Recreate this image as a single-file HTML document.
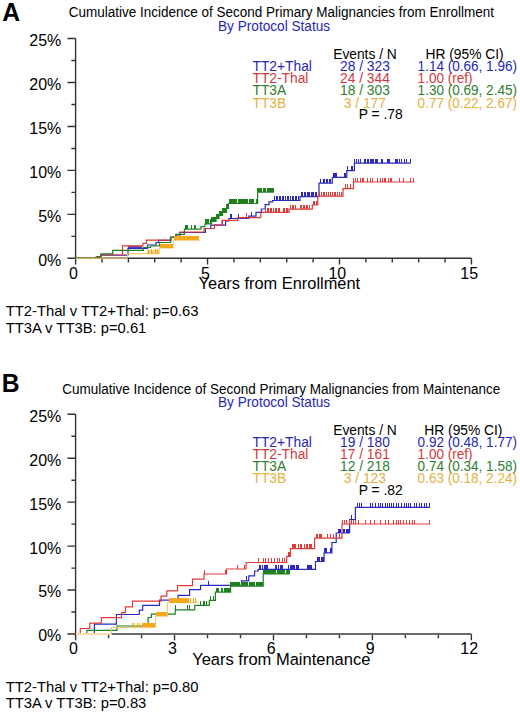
<!DOCTYPE html>
<html><head><meta charset="utf-8"><style>
html,body{margin:0;padding:0;background:#fff;}
body{width:520px;height:714px;overflow:hidden;}
svg{display:block;}
</style></head><body>
<svg width="520" height="714" viewBox="0 0 520 714" font-family='"Liberation Sans", sans-serif'>
<rect width="520" height="714" fill="#fff"/>
<text transform="translate(2.2,20.8) scale(1,1.04)" font-size="24.7" fill="#000" text-anchor="start" font-weight="bold">A</text>
<text transform="translate(281.3,17.4) scale(1,1.04)" font-size="13.5" fill="#000" text-anchor="middle" font-weight="normal">Cumulative Incidence of Second Primary Malignancies from Enrollment</text>
<text transform="translate(218.0,30.8) scale(1,1.04)" font-size="13.65" fill="#2626b4" text-anchor="start" font-weight="normal">By Protocol Status</text>
<text transform="translate(333.2,58.6) scale(1,1.04)" font-size="13.8" fill="#000" text-anchor="start" font-weight="normal">Events / N</text>
<text transform="translate(425.5,58.6) scale(1,1.04)" font-size="13.8" fill="#000" text-anchor="start" font-weight="normal">HR (95% CI)</text>
<text transform="translate(252.5,71.2) scale(1,1.04)" font-size="13.8" fill="#2626b4" text-anchor="start" font-weight="normal">TT2+Thal</text>
<text transform="translate(340.0,71.2) scale(1,1.04)" font-size="13.8" fill="#2626b4" text-anchor="start" font-weight="normal">28 / 323</text>
<text transform="translate(417.6,71.2) scale(1,1.04)" font-size="13.55" fill="#2626b4" text-anchor="start" font-weight="normal">1.14 (0.66, 1.96)</text>
<text transform="translate(252.5,83.3) scale(1,1.04)" font-size="13.8" fill="#d03a3a" text-anchor="start" font-weight="normal">TT2-Thal</text>
<text transform="translate(340.0,83.3) scale(1,1.04)" font-size="13.8" fill="#d03a3a" text-anchor="start" font-weight="normal">24 / 344</text>
<text transform="translate(417.6,83.3) scale(1,1.04)" font-size="13.55" fill="#d03a3a" text-anchor="start" font-weight="normal">1.00 (ref)</text>
<text transform="translate(252.5,95.4) scale(1,1.04)" font-size="13.8" fill="#2e7e2e" text-anchor="start" font-weight="normal">TT3A</text>
<text transform="translate(340.0,95.4) scale(1,1.04)" font-size="13.8" fill="#2e7e2e" text-anchor="start" font-weight="normal">18 / 303</text>
<text transform="translate(417.6,95.4) scale(1,1.04)" font-size="13.55" fill="#2e7e2e" text-anchor="start" font-weight="normal">1.30 (0.69, 2.45)</text>
<text transform="translate(252.5,107.5) scale(1,1.04)" font-size="13.8" fill="#e4b040" text-anchor="start" font-weight="normal">TT3B</text>
<text transform="translate(343.8,107.5) scale(1,1.04)" font-size="13.8" fill="#e4b040" text-anchor="start" font-weight="normal">3 / 177</text>
<text transform="translate(417.6,107.5) scale(1,1.04)" font-size="13.55" fill="#e4b040" text-anchor="start" font-weight="normal">0.77 (0.22, 2.67)</text>
<text transform="translate(358.8,119.0) scale(1,1.04)" font-size="13.8" fill="#000" text-anchor="start" font-weight="normal">P = .78</text>
<path d="M75.6,38.55000000000004V264.5M75.6,258.3H471.45000000000005M75.6,258.30h-8.2M75.6,236.33h-4.2M75.6,214.35h-8.2M75.6,192.38h-4.2M75.6,170.40h-8.2M75.6,148.43h-4.2M75.6,126.45h-8.2M75.6,104.48h-4.2M75.6,82.50h-8.2M75.6,60.53h-4.2M75.6,38.55h-8.2M75.60,258.3v6.2M101.99,258.3v4.2M128.38,258.3v4.2M154.77,258.3v4.2M181.16,258.3v4.2M207.55,258.3v6.2M233.94,258.3v4.2M260.33,258.3v4.2M286.72,258.3v4.2M313.11,258.3v4.2M339.50,258.3v6.2M365.89,258.3v4.2M392.28,258.3v4.2M418.67,258.3v4.2M445.06,258.3v4.2M471.45,258.3v6.2" fill="none" stroke="#333" stroke-width="1.4"/>
<text transform="translate(61.3,265.70) scale(1,1.04)" font-size="16" fill="#000" text-anchor="end" font-weight="normal">0%</text>
<text transform="translate(61.3,221.75) scale(1,1.04)" font-size="16" fill="#000" text-anchor="end" font-weight="normal">5%</text>
<text transform="translate(61.3,177.80) scale(1,1.04)" font-size="16" fill="#000" text-anchor="end" font-weight="normal">10%</text>
<text transform="translate(61.3,133.85) scale(1,1.04)" font-size="16" fill="#000" text-anchor="end" font-weight="normal">15%</text>
<text transform="translate(61.3,89.90) scale(1,1.04)" font-size="16" fill="#000" text-anchor="end" font-weight="normal">20%</text>
<text transform="translate(61.3,45.95) scale(1,1.04)" font-size="16" fill="#000" text-anchor="end" font-weight="normal">25%</text>
<text transform="translate(73.40,278.5) scale(1,1.04)" font-size="16" fill="#000" text-anchor="middle" font-weight="normal">0</text>
<text transform="translate(205.35,278.5) scale(1,1.04)" font-size="16" fill="#000" text-anchor="middle" font-weight="normal">5</text>
<text transform="translate(337.30,278.5) scale(1,1.04)" font-size="16" fill="#000" text-anchor="middle" font-weight="normal">10</text>
<text transform="translate(469.25,278.5) scale(1,1.04)" font-size="16" fill="#000" text-anchor="middle" font-weight="normal">15</text>
<text transform="translate(198.6,289) scale(1,1.04)" font-size="16.4" fill="#000" text-anchor="start" font-weight="normal">Years from Enrollment</text>
<text transform="translate(5.7,316.4) scale(1,1.04)" font-size="14.8" fill="#000" text-anchor="start" font-weight="normal">TT2-Thal v TT2+Thal: p=0.63</text>
<text transform="translate(5.7,332.8) scale(1,1.04)" font-size="14.8" fill="#000" text-anchor="start" font-weight="normal">TT3A v TT3B: p=0.61</text>
<path d="M128.5,248.3v-2.6M129.5,248.3v-2.6M130.5,248.3v-2.6M131.5,248.3v-2.6M132.5,248.3v-2.6M133.5,248.3v-2.6M134.5,248.3v-2.6M135.5,248.3v-2.6M136.5,248.3v-2.6M137.5,248.3v-2.6M138.5,248.3v-2.6M139.5,248.3v-2.6M140.5,248.3v-2.6M141.5,248.3v-2.6" stroke="#6a48b8" stroke-width="1" shape-rendering="crispEdges" fill="none"/>
<path d="M75.6,258.3H99V256.5H101V255.2H128V248.3H147.5V245H156V242.5H158.5V240.4H171V237.3H175.8V235H179.8V232.5H205.4V228.5H210.8V225.2H225.6V221H229V218.5H248.8V216.2H256V212.3H261.3V209H265.2V204.6H269V201.8H272.6V200.5H300V196.6H319V183.1H332.3V177.4H346.8V170.6H354.4V163.1H410.8" fill="none" stroke="#2a2ac0" stroke-width="1.2"/>
<path d="M222.5,225.2v-4.5M230.5,218.5v-4.5M231.5,218.5v-4.5M238.5,218.5v-4.5M251.5,216.2v-4.5M274.5,200.5v-4.5M276.5,200.5v-4.5M277.5,200.5v-4.5M279.5,200.5v-4.5M280.5,200.5v-4.5M282.5,200.5v-4.5M283.5,200.5v-4.5M285.5,200.5v-4.5M287.5,200.5v-4.5M288.5,200.5v-4.5M290.5,200.5v-4.5M292.5,200.5v-4.5M293.5,200.5v-4.5M295.5,200.5v-4.5M296.5,200.5v-4.5M298.5,200.5v-4.5M301.5,196.6v-4.5M302.5,196.6v-4.5M304.5,196.6v-4.5M305.5,196.6v-4.5M307.5,196.6v-4.5M308.5,196.6v-4.5M309.5,196.6v-4.5M311.5,196.6v-4.5M312.5,196.6v-4.5M313.5,196.6v-4.5M315.5,196.6v-4.5M316.5,196.6v-4.5M320.5,183.1v-4.5M323.5,183.1v-4.5M324.5,183.1v-4.5M326.5,183.1v-4.5M327.5,183.1v-4.5M329.5,183.1v-4.5M330.5,183.1v-4.5M333.5,177.4v-4.5M334.5,177.4v-4.5M335.5,177.4v-4.5M336.5,177.4v-4.5M344.5,177.4v-4.5M345.5,177.4v-4.5M347.5,170.6v-4.5M351.5,170.6v-4.5M352.5,170.6v-4.5M354.5,163.1v-4.5M356.5,163.1v-4.5M358.5,163.1v-4.5M360.5,163.1v-4.5M364.5,163.1v-4.5M365.5,163.1v-4.5M367.5,163.1v-4.5M368.5,163.1v-4.5M370.5,163.1v-4.5M371.5,163.1v-4.5M372.5,163.1v-4.5M373.5,163.1v-4.5M375.5,163.1v-4.5M376.5,163.1v-4.5M377.5,163.1v-4.5M381.5,163.1v-4.5M382.5,163.1v-4.5M387.5,163.1v-4.5M388.5,163.1v-4.5M389.5,163.1v-4.5M395.5,163.1v-4.5M396.5,163.1v-4.5M397.5,163.1v-4.5M399.5,163.1v-4.5M401.5,163.1v-4.5M404.5,163.1v-4.5M406.5,163.1v-4.5M410.5,163.1v-4.5" fill="none" stroke="#2a2ac0" stroke-width="1.0" shape-rendering="crispEdges"/>
<path d="M75.6,258.3H96.2V256.6H100.8V255.0H122.5V245.8H143V243.3H146.5V240.2H170.5V237H180V232H204V228.5H214.5V224.8H222V220.4H237.7V217.7H260.8V212.3H289V209.2H312.3V205H317.7V196.2H343V188.6H353.5V182H414.4" fill="none" stroke="#e03a3a" stroke-width="1.2"/>
<path d="M246.5,217.7v-4.5M265.5,212.3v-4.5M267.5,212.3v-4.5M268.5,212.3v-4.5M270.5,212.3v-4.5M271.5,212.3v-4.5M273.5,212.3v-4.5M275.5,212.3v-4.5M276.5,212.3v-4.5M278.5,212.3v-4.5M279.5,212.3v-4.5M283.5,212.3v-4.5M284.5,212.3v-4.5M286.5,212.3v-4.5M287.5,212.3v-4.5M290.5,209.2v-4.5M292.5,209.2v-4.5M293.5,209.2v-4.5M295.5,209.2v-4.5M300.5,209.2v-4.5M301.5,209.2v-4.5M303.5,209.2v-4.5M304.5,209.2v-4.5M306.5,209.2v-4.5M307.5,209.2v-4.5M309.5,209.2v-4.5M313.5,205v-4.5M314.5,205v-4.5M316.5,205v-4.5M319.5,196.2v-4.5M321.5,196.2v-4.5M323.5,196.2v-4.5M324.5,196.2v-4.5M326.5,196.2v-4.5M328.5,196.2v-4.5M330.5,196.2v-4.5M332.5,196.2v-4.5M334.5,196.2v-4.5M335.5,196.2v-4.5M337.5,196.2v-4.5M339.5,196.2v-4.5M341.5,196.2v-4.5M345.5,188.6v-4.5M347.5,188.6v-4.5M350.5,188.6v-4.5M353.5,182v-4.5M355.5,182v-4.5M357.5,182v-4.5M360.5,182v-4.5M362.5,182v-4.5M363.5,182v-4.5M367.5,182v-4.5M370.5,182v-4.5M372.5,182v-4.5M377.5,182v-4.5M380.5,182v-4.5M382.5,182v-4.5M384.5,182v-4.5M385.5,182v-4.5M388.5,182v-4.5M390.5,182v-4.5M391.5,182v-4.5M399.5,182v-4.5M403.5,182v-4.5M410.5,182v-4.5M413.5,182v-4.5" fill="none" stroke="#e03a3a" stroke-width="1.0" shape-rendering="crispEdges"/>
<path d="M75.6,258.3H97.5V256.8H101V253.8H112.7V250.3H143.5V247.5H150.4V246H159.6V242.5H170.5V237.3H175.8V234.4H184.4V229.2H201V226.6H205V223.9H211.5V221.5H216V218.5H219V215.5H222.5V212.5H226.5V208.5H228.5V203.5H257.6V192.1H273.8" fill="none" stroke="#1f801f" stroke-width="1.2"/>
<path d="M185.5,229.2v-4.5M186.5,229.2v-4.5M187.5,229.2v-4.5M191.5,229.2v-4.5M194.5,229.2v-4.5M195.5,229.2v-4.5M205.5,223.9v-4.5M206.5,223.9v-4.5M207.5,223.9v-4.5M208.5,223.9v-4.5M210.5,223.9v-4.5M211.5,221.5v-4.5M212.5,221.5v-4.5M213.5,221.5v-4.5M214.5,221.5v-4.5M215.5,221.5v-4.5M216.5,218.5v-4.5M217.5,218.5v-4.5M218.5,218.5v-4.5M219.5,215.5v-4.5M220.5,215.5v-4.5M221.5,215.5v-4.5M222.5,212.5v-4.5M223.5,212.5v-4.5M224.5,212.5v-4.5M225.5,212.5v-4.5M226.5,208.5v-4.5M227.5,208.5v-4.5M229.5,203.5v-4.5M230.5,203.5v-4.5M231.5,203.5v-4.5M232.5,203.5v-4.5M233.5,203.5v-4.5M234.5,203.5v-4.5M235.5,203.5v-4.5M236.5,203.5v-4.5M238.5,203.5v-4.5M239.5,203.5v-4.5M240.5,203.5v-4.5M241.5,203.5v-4.5M242.5,203.5v-4.5M243.5,203.5v-4.5M244.5,203.5v-4.5M245.5,203.5v-4.5M246.5,203.5v-4.5M247.5,203.5v-4.5M249.5,203.5v-4.5M250.5,203.5v-4.5M251.5,203.5v-4.5M252.5,203.5v-4.5M253.5,203.5v-4.5M256.5,203.5v-4.5M257.5,203.5v-4.5M257.5,192.1v-4.5M258.5,192.1v-4.5M259.5,192.1v-4.5M260.5,192.1v-4.5M261.5,192.1v-4.5M263.5,192.1v-4.5M264.5,192.1v-4.5M265.5,192.1v-4.5M267.5,192.1v-4.5M268.5,192.1v-4.5M269.5,192.1v-4.5M270.5,192.1v-4.5M270.5,192.1v-4.5M271.5,192.1v-4.5M272.5,192.1v-4.5M273.5,192.1v-4.5" fill="none" stroke="#1f801f" stroke-width="1.0" shape-rendering="crispEdges"/>
<path d="M147.5,253.7v-3.6M148.5,253.7v-3.6M149.5,253.7v-3.6M150.5,253.7v-3.6M151.5,253.7v-3.6M152.5,253.7v-3.6M153.5,253.7v-3.6M154.5,253.7v-3.6M155.5,253.7v-3.6M156.5,253.7v-3.6M157.5,253.7v-3.6M158.5,253.7v-3.6" stroke="#f7cf85" stroke-width="1" shape-rendering="crispEdges" fill="none"/>
<path d="M75.6,258.3H127.5V253.7H159.2V248H173.1V240.2H200" fill="none" stroke="#f2c060" stroke-width="1.0"/>
<path d="M148.5,253.7v-4.5M151.5,253.7v-4.5M155.5,253.7v-4.5M157.5,253.7v-4.5M160.5,248v-4.5M161.5,248v-4.5M162.5,248v-4.5M163.5,248v-4.5M164.5,248v-4.5M165.5,248v-4.5M166.5,248v-4.5M167.5,248v-4.5M168.5,248v-4.5M169.5,248v-4.5M170.5,248v-4.5M171.5,248v-4.5M172.5,248v-4.5M174.5,240.2v-4.5M175.5,240.2v-4.5M176.5,240.2v-4.5M177.5,240.2v-4.5M178.5,240.2v-4.5M179.5,240.2v-4.5M180.5,240.2v-4.5M181.5,240.2v-4.5M182.5,240.2v-4.5M183.5,240.2v-4.5M184.5,240.2v-4.5M185.5,240.2v-4.5M186.5,240.2v-4.5M187.5,240.2v-4.5M188.5,240.2v-4.5M189.5,240.2v-4.5M190.5,240.2v-4.5M191.5,240.2v-4.5M192.5,240.2v-4.5M193.5,240.2v-4.5M194.5,240.2v-4.5M195.5,240.2v-4.5M196.5,240.2v-4.5M197.5,240.2v-4.5M198.5,240.2v-4.5" fill="none" stroke="#f5a81a" stroke-width="1.1" shape-rendering="crispEdges"/>
<text transform="translate(1.8,392.1) scale(1,1.04)" font-size="24.7" fill="#000" text-anchor="start" font-weight="bold">B</text>
<text transform="translate(281.3,393.7) scale(1,1.04)" font-size="13.5" fill="#000" text-anchor="middle" font-weight="normal">Cumulative Incidence of Second Primary Malignancies from Maintenance</text>
<text transform="translate(218.0,407.1) scale(1,1.04)" font-size="13.65" fill="#2626b4" text-anchor="start" font-weight="normal">By Protocol Status</text>
<text transform="translate(333.2,434.5) scale(1,1.04)" font-size="13.8" fill="#000" text-anchor="start" font-weight="normal">Events / N</text>
<text transform="translate(424.3,434.5) scale(1,1.04)" font-size="13.8" fill="#000" text-anchor="start" font-weight="normal">HR (95% CI)</text>
<text transform="translate(252.5,446.9) scale(1,1.04)" font-size="13.8" fill="#2626b4" text-anchor="start" font-weight="normal">TT2+Thal</text>
<text transform="translate(340.0,446.9) scale(1,1.04)" font-size="13.8" fill="#2626b4" text-anchor="start" font-weight="normal">19 / 180</text>
<text transform="translate(417.6,446.9) scale(1,1.04)" font-size="13.55" fill="#2626b4" text-anchor="start" font-weight="normal">0.92 (0.48, 1.77)</text>
<text transform="translate(252.5,459.0) scale(1,1.04)" font-size="13.8" fill="#d03a3a" text-anchor="start" font-weight="normal">TT2-Thal</text>
<text transform="translate(340.0,459.0) scale(1,1.04)" font-size="13.8" fill="#d03a3a" text-anchor="start" font-weight="normal">17 / 161</text>
<text transform="translate(417.6,459.0) scale(1,1.04)" font-size="13.55" fill="#d03a3a" text-anchor="start" font-weight="normal">1.00 (ref)</text>
<text transform="translate(252.5,471.1) scale(1,1.04)" font-size="13.8" fill="#2e7e2e" text-anchor="start" font-weight="normal">TT3A</text>
<text transform="translate(340.0,471.1) scale(1,1.04)" font-size="13.8" fill="#2e7e2e" text-anchor="start" font-weight="normal">12 / 218</text>
<text transform="translate(417.6,471.1) scale(1,1.04)" font-size="13.55" fill="#2e7e2e" text-anchor="start" font-weight="normal">0.74 (0.34, 1.58)</text>
<text transform="translate(252.5,483.2) scale(1,1.04)" font-size="13.8" fill="#e4b040" text-anchor="start" font-weight="normal">TT3B</text>
<text transform="translate(343.8,483.2) scale(1,1.04)" font-size="13.8" fill="#e4b040" text-anchor="start" font-weight="normal">3 / 123</text>
<text transform="translate(417.6,483.2) scale(1,1.04)" font-size="13.55" fill="#e4b040" text-anchor="start" font-weight="normal">0.63 (0.18, 2.24)</text>
<text transform="translate(358.8,494.7) scale(1,1.04)" font-size="13.8" fill="#000" text-anchor="start" font-weight="normal">P = .82</text>
<path d="M75.6,414.25V640.2M75.6,634.00h-8.2M75.6,612.02h-4.2M75.6,590.05h-8.2M75.6,568.08h-4.2M75.6,546.10h-8.2M75.6,524.12h-4.2M75.6,502.15h-8.2M75.6,480.18h-4.2M75.6,458.20h-8.2M75.6,436.23h-4.2M75.6,414.25h-8.2M75.60,634.0v6.2M108.58,634.0v4.2M141.56,634.0v4.2M174.54,634.0v6.2M207.52,634.0v4.2M240.50,634.0v4.2M273.48,634.0v6.2M306.46,634.0v4.2M339.44,634.0v4.2M372.42,634.0v6.2M405.40,634.0v4.2M438.38,634.0v4.2M471.36,634.0v6.2" fill="none" stroke="#333" stroke-width="1.4"/>
<path d="M111.6,634.0H471.36" fill="none" stroke="#6a6a6a" stroke-width="1.9"/>
<text transform="translate(61.3,641.40) scale(1,1.04)" font-size="16" fill="#000" text-anchor="end" font-weight="normal">0%</text>
<text transform="translate(61.3,597.45) scale(1,1.04)" font-size="16" fill="#000" text-anchor="end" font-weight="normal">5%</text>
<text transform="translate(61.3,553.50) scale(1,1.04)" font-size="16" fill="#000" text-anchor="end" font-weight="normal">10%</text>
<text transform="translate(61.3,509.55) scale(1,1.04)" font-size="16" fill="#000" text-anchor="end" font-weight="normal">15%</text>
<text transform="translate(61.3,465.60) scale(1,1.04)" font-size="16" fill="#000" text-anchor="end" font-weight="normal">20%</text>
<text transform="translate(61.3,421.65) scale(1,1.04)" font-size="16" fill="#000" text-anchor="end" font-weight="normal">25%</text>
<text transform="translate(73.40,654.2) scale(1,1.04)" font-size="16" fill="#000" text-anchor="middle" font-weight="normal">0</text>
<text transform="translate(172.34,654.2) scale(1,1.04)" font-size="16" fill="#000" text-anchor="middle" font-weight="normal">3</text>
<text transform="translate(271.28,654.2) scale(1,1.04)" font-size="16" fill="#000" text-anchor="middle" font-weight="normal">6</text>
<text transform="translate(370.22,654.2) scale(1,1.04)" font-size="16" fill="#000" text-anchor="middle" font-weight="normal">9</text>
<text transform="translate(469.16,654.2) scale(1,1.04)" font-size="16" fill="#000" text-anchor="middle" font-weight="normal">12</text>
<text transform="translate(192.2,664.6) scale(1,1.04)" font-size="16.5" fill="#000" text-anchor="start" font-weight="normal">Years from Maintenance</text>
<text transform="translate(5.7,691.8) scale(1,1.04)" font-size="14.8" fill="#000" text-anchor="start" font-weight="normal">TT2-Thal v TT2+Thal: p=0.80</text>
<text transform="translate(5.7,708.2) scale(1,1.04)" font-size="14.8" fill="#000" text-anchor="start" font-weight="normal">TT3A v TT3B: p=0.83</text>
<path d="M75.6,634.0H94.4V624.1H116.4V614.5H139.3V610.1H142.7V605.4H159.5V600.2H178.1V595.4H189.6V589.6H200.6V585.3H241.5V580.8H248.8V575.9H254.6V571H258.2V569.4H315.5V561.5H324.1V552.9H331.9V542.5H336.2V533H349.6V519.5H355.4V507.3H429.8" fill="none" stroke="#2a2ac0" stroke-width="1.2"/>
<path d="M208.5,585.3v-4.5M246.5,580.8v-4.5M259.5,569.4v-4.5M260.5,569.4v-4.5M262.5,569.4v-4.5M264.5,569.4v-4.5M265.5,569.4v-4.5M266.5,569.4v-4.5M267.5,569.4v-4.5M275.5,569.4v-4.5M276.5,569.4v-4.5M278.5,569.4v-4.5M278.5,569.4v-4.5M280.5,569.4v-4.5M281.5,569.4v-4.5M282.5,569.4v-4.5M288.5,569.4v-4.5M290.5,569.4v-4.5M291.5,569.4v-4.5M292.5,569.4v-4.5M293.5,569.4v-4.5M294.5,569.4v-4.5M296.5,569.4v-4.5M297.5,569.4v-4.5M298.5,569.4v-4.5M307.5,569.4v-4.5M308.5,569.4v-4.5M309.5,569.4v-4.5M310.5,569.4v-4.5M311.5,569.4v-4.5M317.5,561.5v-4.5M318.5,561.5v-4.5M319.5,561.5v-4.5M321.5,561.5v-4.5M322.5,561.5v-4.5M323.5,561.5v-4.5M324.5,552.9v-4.5M325.5,552.9v-4.5M326.5,552.9v-4.5M330.5,552.9v-4.5M331.5,552.9v-4.5M338.5,533v-4.5M339.5,533v-4.5M340.5,533v-4.5M343.5,533v-4.5M344.5,533v-4.5M346.5,533v-4.5M347.5,533v-4.5M348.5,533v-4.5M351.5,519.5v-4.5M357.5,507.3v-4.5M359.5,507.3v-4.5M361.5,507.3v-4.5M370.5,507.3v-4.5M372.5,507.3v-4.5M375.5,507.3v-4.5M378.5,507.3v-4.5M380.5,507.3v-4.5M382.5,507.3v-4.5M385.5,507.3v-4.5M387.5,507.3v-4.5M389.5,507.3v-4.5M391.5,507.3v-4.5M393.5,507.3v-4.5M396.5,507.3v-4.5M398.5,507.3v-4.5M401.5,507.3v-4.5M404.5,507.3v-4.5M406.5,507.3v-4.5M408.5,507.3v-4.5M410.5,507.3v-4.5M414.5,507.3v-4.5M416.5,507.3v-4.5M419.5,507.3v-4.5M421.5,507.3v-4.5M424.5,507.3v-4.5M426.5,507.3v-4.5M429.5,507.3v-4.5" fill="none" stroke="#2a2ac0" stroke-width="1.0" shape-rendering="crispEdges"/>
<path d="M75.6,634.0H80.3V628.5H89.8V623.1H101.3V617.7H121.5V612.7H125.4V606.8H132.5V601.2H161V596.1H166.8V590.8H177.5V585.6H192.5V579.2H204V574H226.5V569H246V562.5H286.7V556.3H290.4V548.6H314.6V538.2H342V524H430.2" fill="none" stroke="#e03a3a" stroke-width="1.2"/>
<path d="M204.5,574v-4.5M225.5,574v-4.5M237.5,569v-4.5M244.5,569v-4.5M258.5,562.5v-4.5M263.5,562.5v-4.5M265.5,562.5v-4.5M268.5,562.5v-4.5M271.5,562.5v-4.5M274.5,562.5v-4.5M277.5,562.5v-4.5M279.5,562.5v-4.5M282.5,562.5v-4.5M284.5,562.5v-4.5M288.5,556.3v-4.5M289.5,556.3v-4.5M292.5,548.6v-4.5M293.5,548.6v-4.5M294.5,548.6v-4.5M295.5,548.6v-4.5M298.5,548.6v-4.5M300.5,548.6v-4.5M301.5,548.6v-4.5M304.5,548.6v-4.5M306.5,548.6v-4.5M307.5,548.6v-4.5M309.5,548.6v-4.5M310.5,548.6v-4.5M311.5,548.6v-4.5M316.5,538.2v-4.5M317.5,538.2v-4.5M319.5,538.2v-4.5M320.5,538.2v-4.5M321.5,538.2v-4.5M327.5,538.2v-4.5M330.5,538.2v-4.5M333.5,538.2v-4.5M339.5,538.2v-4.5M342.5,524v-4.5M344.5,524v-4.5M346.5,524v-4.5M349.5,524v-4.5M351.5,524v-4.5M353.5,524v-4.5M355.5,524v-4.5M358.5,524v-4.5M365.5,524v-4.5M370.5,524v-4.5M374.5,524v-4.5M380.5,524v-4.5M385.5,524v-4.5M388.5,524v-4.5M393.5,524v-4.5M396.5,524v-4.5M398.5,524v-4.5M400.5,524v-4.5M403.5,524v-4.5M406.5,524v-4.5M409.5,524v-4.5M412.5,524v-4.5M414.5,524v-4.5M429.5,524v-4.5" fill="none" stroke="#e03a3a" stroke-width="1.0" shape-rendering="crispEdges"/>
<path d="M75.6,634.0H86.9V630.4H117V626H148.1V617.5H151.4V614.2H175.2V609.8H194.8V605.3H209.3V600.4H215.4V592.2H230.6V586.2H263.2V573.8H289.5" fill="none" stroke="#1f801f" stroke-width="1.2"/>
<path d="M175.5,609.8v-4.5M187.5,609.8v-4.5M189.5,609.8v-4.5M200.5,605.3v-4.5M203.5,605.3v-4.5M204.5,605.3v-4.5M206.5,605.3v-4.5M210.5,600.4v-4.5M213.5,600.4v-4.5M216.5,592.2v-4.5M217.5,592.2v-4.5M218.5,592.2v-4.5M221.5,592.2v-4.5M222.5,592.2v-4.5M224.5,592.2v-4.5M225.5,592.2v-4.5M226.5,592.2v-4.5M227.5,592.2v-4.5M228.5,592.2v-4.5M229.5,592.2v-4.5M230.5,586.2v-4.5M231.5,586.2v-4.5M232.5,586.2v-4.5M233.5,586.2v-4.5M234.5,586.2v-4.5M235.5,586.2v-4.5M236.5,586.2v-4.5M237.5,586.2v-4.5M238.5,586.2v-4.5M239.5,586.2v-4.5M241.5,586.2v-4.5M242.5,586.2v-4.5M243.5,586.2v-4.5M244.5,586.2v-4.5M245.5,586.2v-4.5M246.5,586.2v-4.5M247.5,586.2v-4.5M249.5,586.2v-4.5M250.5,586.2v-4.5M251.5,586.2v-4.5M252.5,586.2v-4.5M253.5,586.2v-4.5M254.5,586.2v-4.5M256.5,586.2v-4.5M257.5,586.2v-4.5M258.5,586.2v-4.5M259.5,586.2v-4.5M260.5,586.2v-4.5M261.5,586.2v-4.5M262.5,586.2v-4.5M263.5,573.8v-4.5M264.5,573.8v-3.9M265.5,573.8v-3.9M266.5,573.8v-3.9M267.5,573.8v-3.9M268.5,573.8v-3.9M269.5,573.8v-3.9M270.5,573.8v-3.9M271.5,573.8v-3.9M272.5,573.8v-3.9M273.5,573.8v-3.9M274.5,573.8v-3.9M275.5,573.8v-3.9M277.5,573.8v-3.9M278.5,573.8v-3.9M279.5,573.8v-3.9M280.5,573.8v-3.9M281.5,573.8v-3.9M282.5,573.8v-3.9M283.5,573.8v-3.9M284.5,573.8v-3.9M286.5,573.8v-3.9M287.5,573.8v-3.9M288.5,573.8v-3.9M289.5,573.8v-3.9" fill="none" stroke="#1f801f" stroke-width="1.0" shape-rendering="crispEdges"/>
<path d="M76,634.0H111.8" stroke="#f6dcae" stroke-width="1.9" fill="none"/>
<path d="M111.5,634.0H111.5V627.4H155.5V616.2H167.5V602.6H198.3" fill="none" stroke="#f2c060" stroke-width="1.0"/>
<path d="M132.5,627.4v-4.5M134.5,627.4v-4.5M137.5,627.4v-4.5M139.5,627.4v-4.5M142.5,627.4v-4.5M143.5,627.4v-4.5M144.5,627.4v-4.5M145.5,627.4v-4.5M146.5,627.4v-4.5M147.5,627.4v-4.5M148.5,627.4v-4.5M149.5,627.4v-4.5M150.5,627.4v-4.5M151.5,627.4v-4.5M152.5,627.4v-4.5M153.5,627.4v-4.5M154.5,627.4v-4.5M156.5,616.2v-4.5M157.5,616.2v-4.5M158.5,616.2v-4.5M159.5,616.2v-4.5M160.5,616.2v-4.5M161.5,616.2v-4.5M162.5,616.2v-4.5M163.5,616.2v-4.5M164.5,616.2v-4.5M165.5,616.2v-4.5M166.5,616.2v-4.5M169.5,602.6v-4.5M170.5,602.6v-4.5M171.5,602.6v-4.5M172.5,602.6v-4.5M173.5,602.6v-4.5M174.5,602.6v-4.5M175.5,602.6v-4.5M176.5,602.6v-4.5M177.5,602.6v-4.5M178.5,602.6v-4.5M179.5,602.6v-4.5M180.5,602.6v-4.5M181.5,602.6v-4.5M182.5,602.6v-4.5M183.5,602.6v-4.5M184.5,602.6v-4.5M185.5,602.6v-4.5M186.5,602.6v-4.5M187.5,602.6v-4.5M188.5,602.6v-4.5M190.5,602.6v-4.5M193.5,602.6v-4.5M195.5,602.6v-4.5" fill="none" stroke="#f5a81a" stroke-width="1.1" shape-rendering="crispEdges"/>
</svg>
</body></html>
